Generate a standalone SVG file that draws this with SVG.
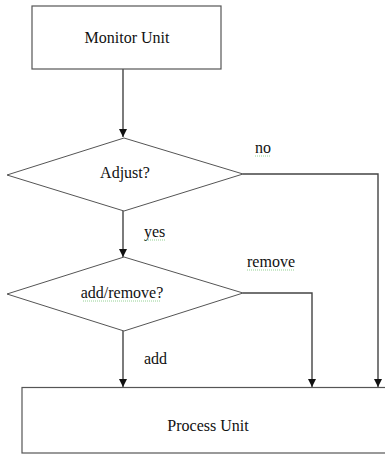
<svg xmlns="http://www.w3.org/2000/svg" width="385" height="454" viewBox="0 0 385 454">
<style>
.box{fill:#fff;stroke:#555;stroke-width:1.2}
.dia{fill:#fff;stroke:#555;stroke-width:1}
.ln{fill:none;stroke:#444;stroke-width:1.4}
.sq{fill:none;stroke:#7ac77a;stroke-width:0.8;stroke-dasharray:1 1}
</style>
<defs>
<marker id="ah" viewBox="0 0 10 10" refX="10" refY="5" markerWidth="8" markerHeight="8" markerUnits="userSpaceOnUse" orient="auto">
<path d="M0,0 L10,5 L0,10 Z" fill="#111"/>
</marker>
</defs>
<rect width="385" height="454" fill="#fff"/>
<g font-family="'Liberation Serif', 'DejaVu Serif', serif" font-size="16" fill="#111">
<g id="connectors">
<path class="ln" d="M123,69 V137" marker-end="url(#ah)"/>
<path class="ln" d="M243,174 H378 V387" marker-end="url(#ah)"/>
<path class="ln" d="M123,211 V257" marker-end="url(#ah)"/>
<path class="ln" d="M243,293 H312 V387" marker-end="url(#ah)"/>
<path class="ln" d="M123,331 V387" marker-end="url(#ah)"/>
<text x="255" y="153">no</text>
<path class="sq" d="M255,156 H270"/>
<text x="144" y="237">yes</text>
<path class="sq" d="M144,240 H165"/>
<text x="247" y="267">remove</text>
<path class="sq" d="M247,270 H295"/>
<text x="144" y="364">add</text>
</g>
<g id="monitor">
<rect class="box" x="32" y="6" width="189" height="63"/>
<text x="127" y="43" text-anchor="middle">Monitor Unit</text>
</g>
<g id="adjust">
<polygon class="dia" points="124,138 243,174 124,211 7,175"/>
<text x="125" y="178" text-anchor="middle">Adjust?</text>
</g>
<g id="addremove">
<polygon class="dia" points="124,257 243,293 124,331 7,294"/>
<text x="122" y="298" text-anchor="middle">add/remove?</text>
<path class="sq" d="M83,301 H160"/>
</g>
<g id="process">
<rect class="box" x="22" y="387.5" width="370" height="65.5"/>
<text x="208" y="431" text-anchor="middle">Process Unit</text>
</g>
</g>
</svg>
